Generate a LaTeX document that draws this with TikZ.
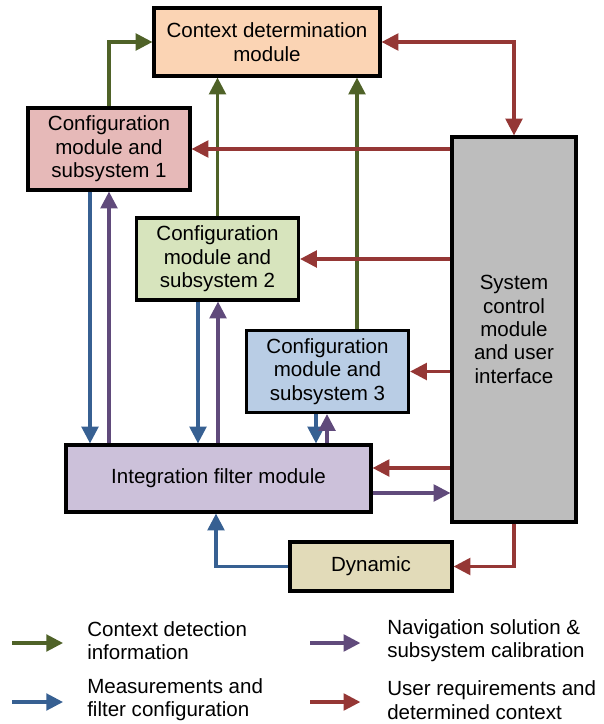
\documentclass[tikz,border=0pt]{standalone}
\usepackage{fontspec}
\setmainfont{Liberation Sans}
\usetikzlibrary{arrows.meta}

\definecolor{ctxgreen}{HTML}{4F6228}
\definecolor{measblue}{HTML}{376092}
\definecolor{navpurple}{HTML}{604A7B}
\definecolor{usrred}{HTML}{953735}
\definecolor{ctxfill}{HTML}{FBD4B4}
\definecolor{cfgafill}{HTML}{E6B9B8}
\definecolor{cfgbfill}{HTML}{D7E4BD}
\definecolor{cfgcfill}{HTML}{B9CDE5}
\definecolor{filtfill}{HTML}{CCC1DA}
\definecolor{sysfill}{HTML}{BDBDBD}
\definecolor{dynfill}{HTML}{E2DBB9}

\begin{document}
\begin{tikzpicture}[x=0.75pt,y=-0.75pt,
  box/.style={draw,line width=2.4pt,align=center,inner sep=0pt,font=\fontsize{15.4}{17.5}\selectfont},
  link/.style={line width=2.3pt,-{Triangle[length=12.5pt,width=12.5pt]}},
  lbl/.style={anchor=west,align=left,inner sep=0pt,font=\fontsize{15.4}{17.5}\selectfont}]
\useasboundingbox (0,0) rectangle (603,724);

% Create modules
\node[box,fill=ctxfill,minimum width=169.5pt,minimum height=51pt] (ctx) at (267,42) {Context determination\\module};
\node[box,fill=cfgafill,minimum width=121.5pt,minimum height=61.5pt] (cfga) at (109,149) {Configuration\\module and\\subsystem 1};
\node[box,fill=cfgbfill,minimum width=121.5pt,minimum height=61.5pt] (cfgb) at (217.5,259) {Configuration\\module and\\subsystem 2};
\node[box,fill=cfgcfill,minimum width=121.5pt,minimum height=61.5pt] (cfgc) at (327.5,371.5) {Configuration\\module and\\subsystem 3};
\node[box,fill=filtfill,minimum width=228.75pt,minimum height=50.25pt] (filt) at (218.5,478.5) {Integration filter module};
\node[box,fill=sysfill,minimum width=93pt,minimum height=288.75pt] (sys) at (514,329.5) {System\\control\\module\\and user\\interface};
\node[box,fill=dynfill,minimum width=121.5pt,minimum height=36.75pt] (dyn) at (371,566.5) {Dynamic};

% Context detection information
\draw[link,ctxgreen] (cfga.north) |- (ctx.west);
\draw[link,ctxgreen] (cfgb.north) -- (cfgb.north |- ctx.south);
\draw[link,ctxgreen] (cfgc.north -| 357,0) -- (ctx.south -| 357,0);

% User requirements and determined context
\draw[link,usrred,{Triangle[length=12.5pt,width=12.5pt]}-{Triangle[length=12.5pt,width=12.5pt]}] (ctx.east) -| (sys.north);
\draw[link,usrred] (sys.west |- cfga) -- (cfga.east);
\draw[link,usrred] (sys.west |- cfgb) -- (cfgb.east);
\draw[link,usrred] (sys.west |- cfgc) -- (cfgc.east);
\draw[link,usrred] (sys.west |- 0,468) -- (filt.east |- 0,468);
\draw[link,usrred] (sys.south) |- (dyn.east);

% Measurements and filter configuration
\draw[link,measblue] (cfga.south -| 90,0) -- (filt.north -| 90,0);
\draw[link,measblue] (cfgb.south -| 198,0) -- (filt.north -| 198,0);
\draw[link,measblue] (cfgc.south -| 316,0) -- (filt.north -| 316,0);
\draw[link,measblue] (dyn.west) -| (filt.south -| 216,0);

% Navigation solution and calibration
\draw[link,navpurple] (filt.north -| 109,0) -- (cfga.south -| 109,0);
\draw[link,navpurple] (filt.north -| 218,0) -- (cfgb.south -| 218,0);
\draw[link,navpurple] (filt.north -| 327,0) -- (cfgc.south -| 327,0);
\draw[link,navpurple] (filt.east |- 0,493) -- (sys.west |- 0,493);

% Legend
\node[lbl] (lga) at (87,640.5) {Context detection\\information};
\node[lbl] (lgb) at (387,640.5) {Navigation solution \&\\subsystem calibration};
\node[lbl] (lgc) at (87,700) {Measurements and\\filter configuration};
\node[lbl] (lgd) at (387,700) {User requirements and\\determined context};
\coordinate (ga) at (12,643);
\coordinate (gb) at (310,643);
\coordinate (gc) at (12,702);
\coordinate (gd) at (310,702);
\draw[link,ctxgreen,shorten >=18pt] (ga) -- (ga -| lga.west);
\draw[link,navpurple,shorten >=20pt] (gb) -- (gb -| lgb.west);
\draw[link,measblue,shorten >=18pt] (gc) -- (gc -| lgc.west);
\draw[link,usrred,shorten >=20pt] (gd) -- (gd -| lgd.west);

\end{tikzpicture}
\end{document}
